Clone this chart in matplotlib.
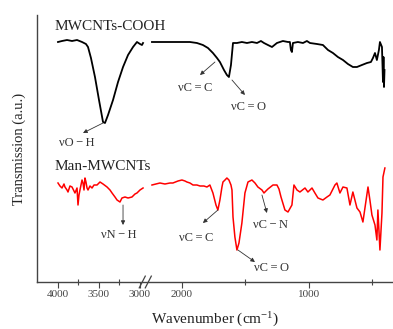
import numpy as np
import matplotlib
matplotlib.use("Agg")
import matplotlib.pyplot as plt
from matplotlib.scale import FuncScale

plt.rcParams['font.family'] = ['Liberation Serif', 'DejaVu Serif']
plt.rcParams['mathtext.fontset'] = 'custom'
plt.rcParams['mathtext.rm'] = 'Liberation Serif'
plt.rcParams['mathtext.default'] = 'regular'

# ---------------- data (wavenumber cm^-1, transmission a.u.) ----------------
cooh_hi_w = [4000, 3951, 3890, 3829, 3768, 3707, 3659, 3634, 3598, 3549, 3500, 3451,
             3427, 3390, 3329, 3268, 3207, 3146, 3085, 3037, 3000, 2976, 2963]
cooh_hi_t = [240, 241, 242, 241, 242, 240, 238, 235, 224, 205, 182, 160,
             159, 167, 182, 200, 215, 227, 235, 240, 238, 237, 239]

cooh_lo_w = [2236, 2134, 2016, 1937, 1882, 1835, 1795, 1756, 1724, 1701, 1669, 1646,
             1630, 1614, 1598, 1567, 1528, 1488, 1449, 1409, 1378, 1354, 1323, 1291,
             1252, 1205, 1165, 1150, 1142, 1134, 1126, 1087, 1047, 1016, 992, 937,
             890, 850, 811, 772, 732, 693, 654, 622, 583, 543, 512, 496, 480, 465,
             449, 441, 425, 417, 413, 409, 405]
cooh_lo_t = [240, 240, 240, 240, 239, 237, 234, 229, 224, 220, 212, 207,
             205, 217, 239, 239, 240, 239, 240, 239, 241, 239, 237, 235,
             239, 241, 240, 240, 232, 230, 239, 240, 239, 241, 239, 238,
             237, 232, 229, 225, 222, 218, 215, 215, 217, 219, 220, 224, 229, 222,
             232, 240, 235, 200, 225, 195, 212]

man_hi_w = [4000, 3976, 3951, 3927, 3915, 3890, 3878, 3854, 3829, 3805, 3793, 3768,
            3756, 3744, 3732, 3707, 3695, 3683, 3671, 3659, 3646, 3634, 3610, 3585,
            3561, 3524, 3488, 3451, 3402, 3366, 3341, 3305, 3280, 3244, 3220, 3183,
            3146, 3098, 3061, 3037, 3000, 2963]
man_hi_t = [99, 96, 94, 98, 95, 92, 90, 96, 95, 91, 89, 94,
            77, 87, 92, 102, 99, 92, 104, 100, 94, 92, 96, 94,
            97, 97, 100, 98, 95, 92, 89, 85, 82, 80, 84, 85,
            84, 85, 88, 89, 92, 94]

man_lo_w = [2236, 2205, 2173, 2134, 2094, 2071, 2031, 2000, 1976, 1961, 1937, 1913,
            1882, 1858, 1827, 1803, 1780, 1756, 1732, 1717, 1701, 1685, 1677, 1661,
            1646, 1630, 1614, 1606, 1598, 1583, 1567, 1551, 1528, 1504, 1480, 1449,
            1425, 1402, 1370, 1354, 1339, 1323, 1283, 1252, 1236, 1220, 1189, 1165,
            1134, 1118, 1094, 1071, 1031, 1008, 976, 953, 929, 890, 858, 835,
            795, 780, 756, 732, 701, 677, 654, 622, 598, 575, 559, 535,
            520, 504, 480, 465, 457, 441, 425, 417, 402]
man_lo_t = [97, 98, 99, 98, 99, 99, 101, 102, 101, 100, 99, 97,
            97, 96, 96, 95, 97, 89, 77, 72, 82, 95, 100, 102,
            104, 102, 97, 92, 65, 45, 32, 39, 59, 89, 100, 102,
            99, 95, 92, 89, 91, 93, 97, 97, 93, 85, 72, 70,
            77, 97, 92, 90, 94, 90, 94, 89, 84, 82, 85, 87,
            97, 99, 89, 95, 94, 77, 90, 74, 70, 60, 74, 95,
            82, 67, 57, 42, 72, 32, 69, 105, 114]

series_labels = ["MWCNTs-COOH", "Man-MWCNTs"]
major_ticks = [4000, 3500, 3000, 2000, 1000]
major_labels = ["4000", "3500", "3000", "2000", "1000"]
minor_ticks = [3750, 3250, 1500, 500]

TS = "\u2009"
# annotations: (label, tail_w, tail_t, head_w, head_t, text_w, text_t)
annots = [
    ("νO" + TS + "−" + TS + "H", 3451, 159, 3695, 149, 3774, 139),
    ("νC" + TS + "=" + TS + "C", 1740, 220, 1858, 207, 1898, 194),
    ("νC" + TS + "=" + TS + "O", 1606, 202, 1504, 187, 1472, 175),
    ("νN" + TS + "−" + TS + "H", 3207, 77, 3207, 57, 3262, 47),
    ("νC" + TS + "=" + TS + "C", 1717, 72, 1835, 59, 1890, 44),
    ("νC" + TS + "=" + TS + "O", 1559, 32, 1425, 20, 1291, 14),
    ("νC" + TS + "−" + TS + "N", 1370, 87, 1331, 69, 1303, 57),
]

# broken axis: piecewise-linear scale (wavenumber -> position)
W_KNOTS = [346, 2283, 2950, 4256]
P_KNOTS = [0, 246, 247.9, 355]

def fwd(w):
    return np.interp(w, W_KNOTS, P_KNOTS)

def inv(p):
    return np.interp(p, P_KNOTS, W_KNOTS)

fig = plt.figure(figsize=(3.93, 3.29), dpi=100)
ax = fig.add_axes([37 / 393, 1 - 282 / 329, 355 / 393, 267 / 329])
ax.set_xscale(FuncScale(ax, (fwd, inv)))
ax.set_xlim(4256, 346)
ax.set_ylim(0, 267)

ax.plot(cooh_hi_w, cooh_hi_t, color='black', lw=1.3)
ax.plot(cooh_lo_w, cooh_lo_t, color='black', lw=1.3)
ax.plot(man_hi_w, man_hi_t, color='#ff0000', lw=1.1)
ax.plot(man_lo_w, man_lo_t, color='#ff0000', lw=1.1)

ax.text(4037, 255, series_labels[0], fontsize=11, color='#222222', ha='left', va='center')
ax.text(4037, 115, series_labels[1], fontsize=11, color='#222222', ha='left', va='center')

for lab, tw, tt, hw, ht, xw, xt in annots:
    ax.annotate("", xy=(hw, ht), xytext=(tw, tt),
                arrowprops=dict(arrowstyle='-|>', color='#333333', lw=0.6,
                                mutation_scale=6, shrinkA=0, shrinkB=0))
    ax.text(xw, xt, lab, fontsize=9, color='#333333', ha='center', va='center')

for s in ['top', 'right']:
    ax.spines[s].set_visible(False)
for s in ['left', 'bottom']:
    ax.spines[s].set_color('#444444')
    ax.spines[s].set_linewidth(1.0)

ax.set_yticks([])
ax.set_xticks(major_ticks)
ax.set_xticklabels(major_labels)
ax.set_xticks(minor_ticks, minor=True)
ax.tick_params(axis='x', which='major', direction='out', length=4, width=0.8,
               colors='#444444', labelsize=8, pad=2)
ax.tick_params(axis='x', which='minor', direction='inout', length=4, width=0.8,
               colors='#444444')

# break marks on x axis
for x0 in (0.288, 0.305):
    ax.plot([x0, x0 + 0.017], [-0.022, 0.022], transform=ax.transAxes,
            color='#444444', lw=0.9, clip_on=False)

ax.set_xlabel("Wavenumber (cm$^{-1}$)", fontsize=11, color='#222222', labelpad=8)
ax.set_ylabel("Transmission (a.u.)", fontsize=10.5, color='#222222', labelpad=8)

fig.savefig("out.png", dpi=100)
